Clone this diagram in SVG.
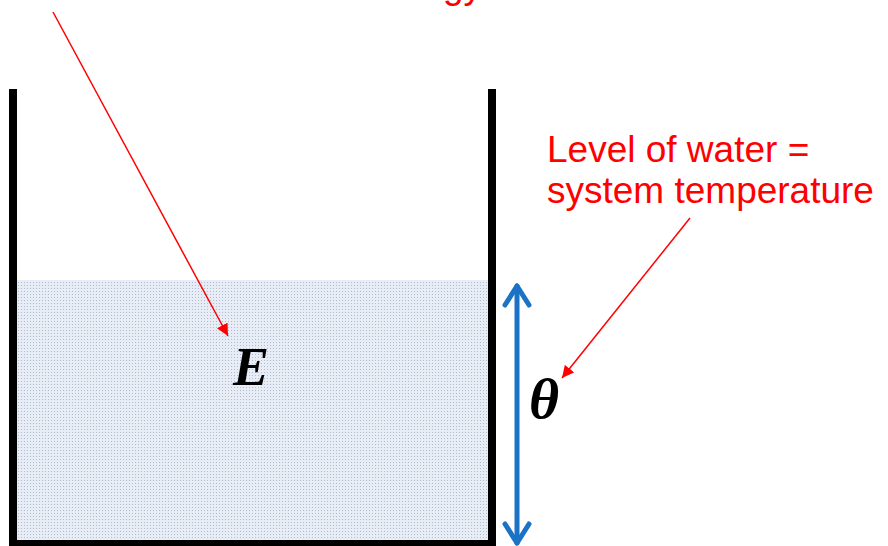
<svg xmlns="http://www.w3.org/2000/svg" width="888" height="546" viewBox="0 0 888 546">
<style>
.lbl{font-family:"Liberation Sans",Arial,sans-serif;font-size:37px;fill:#ff0000}
.sym{font-family:"Liberation Serif","Times New Roman",serif;font-size:54px;font-weight:bold;font-style:italic;fill:#000}
.red{stroke:#ff0000;stroke-width:1.5;fill:none}
.wall{fill:#000}
</style>
<defs>
<pattern id="dots" width="3" height="3" patternUnits="userSpaceOnUse">
<rect width="3" height="3" fill="#e8edf5"/>
<rect x="0" y="0" width="1" height="1" fill="#aebcd3"/>
</pattern>
<marker id="ah" viewBox="0 0 10 10" refX="10" refY="5" markerWidth="12" markerHeight="12" markerUnits="userSpaceOnUse" orient="auto">
<path d="M0,0 L10,5 L0,10 z" fill="#ff0000"/>
</marker>
</defs>
<rect width="888" height="546" fill="#fff"/>
<g id="container">
<rect x="17" y="280" width="471" height="260" fill="url(#dots)"/>
<rect class="wall" x="9" y="89" width="8" height="457"/>
<rect class="wall" x="488" y="89" width="8" height="457"/>
<rect class="wall" x="9" y="540" width="487" height="6"/>
</g>
<g id="label-energy">
<text class="lbl" x="482" y="-2" text-anchor="end">Amount of water = internal energy</text>
</g>
<g id="label-temp">
<text class="lbl" x="547" y="162">Level of water =</text>
<text class="lbl" x="547" y="203">system temperature</text>
</g>
<g id="sym-E"><text class="sym" x="233" y="385">E</text></g>
<g id="sym-theta"><text class="sym" x="529" y="418" style="font-size:58px">θ</text></g>
<g id="connectors">
<line class="red" x1="53" y1="12" x2="228" y2="336" marker-end="url(#ah)"/>
<line class="red" x1="690" y1="218" x2="562" y2="378" marker-end="url(#ah)"/>
<g stroke="#1a73c4" stroke-width="5" fill="none" stroke-linecap="round" stroke-linejoin="round">
<line x1="517" y1="286" x2="517" y2="543"/>
<polyline points="505,305 517,286 529,305"/>
<polyline points="505,524 517,543 529,524"/>
</g>
</g>
</svg>
